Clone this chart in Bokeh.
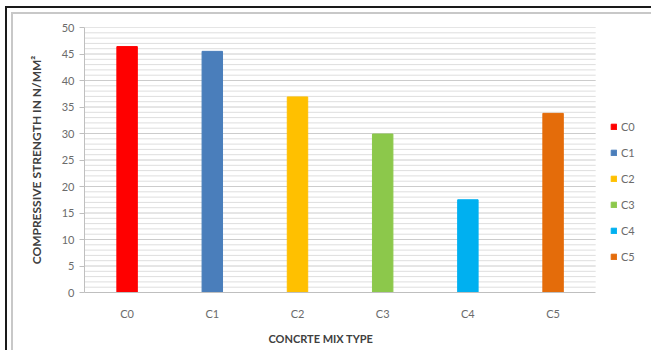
from bokeh.plotting import figure
from bokeh.models import (ColumnDataSource, SingleIntervalTicker, FixedTicker, Legend,
                          LegendItem, Range1d, Title)
from bokeh.layouts import column
from bokeh.embed import file_html
from bokeh.resources import INLINE

# Data
mixes = ["C0", "C1", "C2", "C3", "C4", "C5"]
strength = [46.4, 45.5, 36.9, 29.9, 17.5, 33.8]
colors = ["#ff0000", "#4a7ebb", "#ffc000", "#8cc84b", "#00b0f0", "#e46c0a"]
y_title = "COMPRESSIVE STRENGTH IN N/MM²"
x_title = "CONCRTE MIX TYPE"
y_max = 50

FONT = "Lato"
xpos = list(range(len(mixes)))
x_lo, x_hi = -0.5, len(mixes) - 0.5

p = figure(width=640, height=338, x_range=Range1d(x_lo, 6.12),
           y_range=Range1d(0, y_max), output_backend="svg", toolbar_location=None,
           min_border_left=71, min_border_right=5, min_border_top=13,
           min_border_bottom=60)
p.styles = {"border-top": "2px solid #c8c8c8", "border-left": "2px solid #c8c8c8",
            "margin-left": "4px", "margin-top": "4px"}

p.outline_line_color = None
p.background_fill_color = "white"
p.border_fill_color = "white"
p.xgrid.visible = False
p.ygrid.visible = False

# gridlines (minor every 1, major every 5), limited to the plot area
gy_minor = [v for v in range(0, y_max + 1) if v % 5 != 0]
gy_major = [v for v in range(5, y_max + 1, 5)]
p.segment(x0=x_lo, x1=x_hi, y0=gy_minor, y1=gy_minor, line_color="#dedede", line_width=1)
p.segment(x0=x_lo, x1=x_hi, y0=gy_major, y1=gy_major, line_color="#cccccc", line_width=1)

src = ColumnDataSource(dict(x=xpos, top=strength, color=colors, label=mixes))
r = p.vbar(x="x", top="top", width=0.24, color="color", source=src)

# y axis
p.yaxis.ticker = SingleIntervalTicker(interval=5)
p.yaxis.axis_line_color = "#bfbfbf"
p.yaxis.major_tick_line_color = "#bfbfbf"
p.yaxis.major_tick_in = 0
p.yaxis.major_tick_out = 5
p.yaxis.minor_tick_line_color = None
p.yaxis.major_label_text_font = FONT
p.yaxis.major_label_text_font_size = "11px"
p.yaxis.major_label_text_color = "#6b6b6b"
p.yaxis.axis_label = y_title
p.yaxis.axis_label_text_font = FONT
p.yaxis.axis_label_text_font_style = "bold"
p.yaxis.axis_label_text_font_size = "12px"
p.yaxis.axis_label_text_color = "#404040"
p.yaxis.axis_label_standoff = 15

# x axis
p.xaxis.ticker = FixedTicker(ticks=xpos)
p.xaxis.major_label_overrides = {i: m for i, m in zip(xpos, mixes)}
p.xaxis.bounds = (x_lo, x_hi)
p.xaxis.axis_line_color = "#bfbfbf"
p.xaxis.major_tick_line_color = None
p.xaxis.minor_tick_line_color = None
p.xaxis.major_label_text_font = FONT
p.xaxis.major_label_text_font_size = "11px"
p.xaxis.major_label_text_color = "#6b6b6b"
p.xaxis.major_label_standoff = 8

xt = Title(text=x_title, align="left", offset=184, text_font=FONT,
           text_font_style="bold", text_font_size="11px", text_color="#404040",
           standoff=15)
p.add_layout(xt, "below")

# legend
items = [LegendItem(label=m, renderers=[r], index=i) for i, m in enumerate(mixes)]
legend = Legend(items=items, location=(526, 28), border_line_color=None,
                background_fill_alpha=0, label_text_font=FONT,
                label_text_font_size="11px", label_text_color="#6b6b6b",
                glyph_width=7, glyph_height=7, label_height=16, spacing=10,
                padding=5, label_standoff=4)
p.add_layout(legend, "center")

layout = column(p)
layout.styles = {"border-top": "2px solid #1a1a1a", "border-left": "2px solid #1a1a1a",
                 "margin-left": "5px", "margin-top": "6px"}

open("out.html", "w").write(file_html(layout, INLINE))
